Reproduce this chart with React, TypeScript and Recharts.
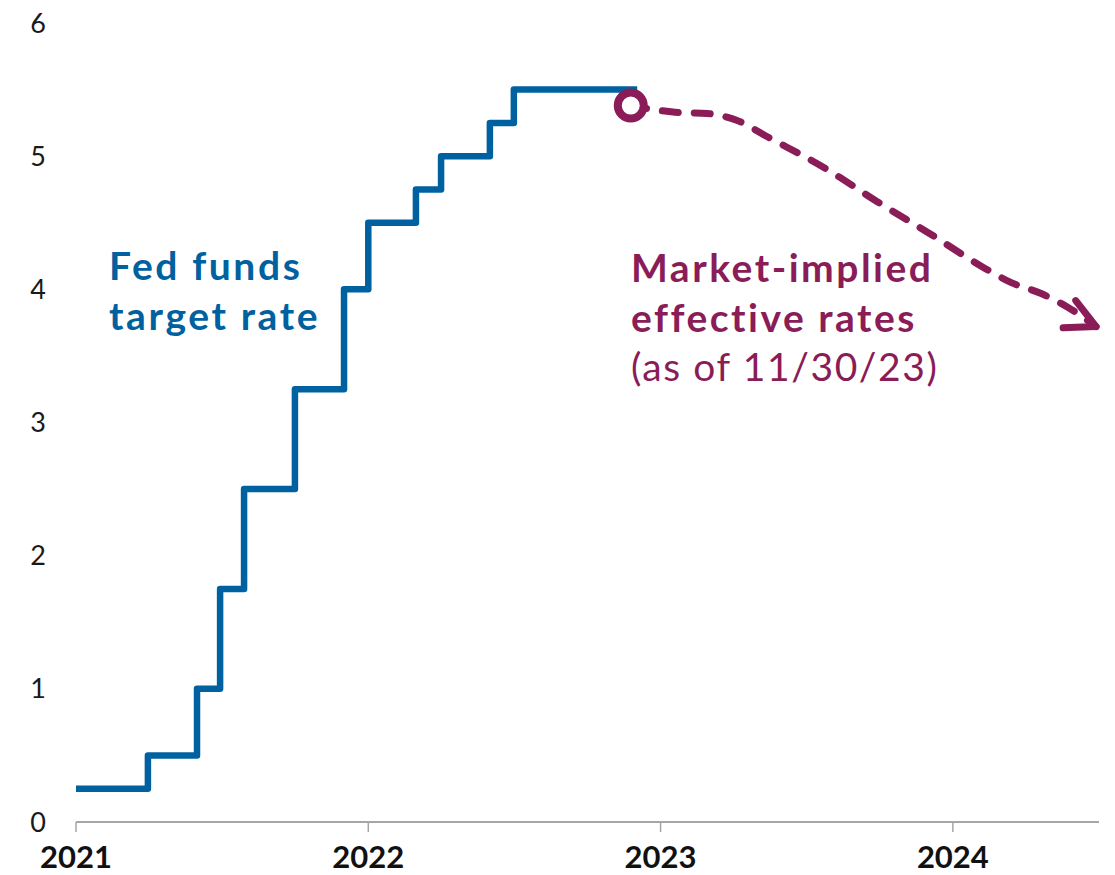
import { LineChart, Line, XAxis, YAxis } from "recharts";

const BLUE = "#0061A0";
const PURPLE = "#8A1C58";

// x axis
export const yearTicks = [2021, 2022, 2023, 2024];
export const rateTicks = [0, 1, 2, 3, 4, 5, 6];

// fed funds target rate (step)
export const fedYears = [
  2021.0, 2021.246, 2021.414, 2021.493, 2021.575, 2021.749, 2021.917, 2022.0,
  2022.163, 2022.249, 2022.416, 2022.498, 2022.92,
];
export const fedRates = [
  0.25, 0.5, 1.0, 1.75, 2.5, 3.25, 4.0, 4.5, 4.75, 5.0, 5.25, 5.5, 5.5,
];

// market-implied effective rates
export const impliedYears = [
  2022.898, 2023.05, 2023.16, 2023.26, 2023.37, 2023.57, 2023.74, 2023.92,
  2024.1, 2024.2, 2024.3, 2024.39, 2024.49,
];
export const impliedRates = [
  5.38, 5.33, 5.32, 5.27, 5.14, 4.9, 4.66, 4.42, 4.17, 4.05, 3.97, 3.87, 3.72,
];

const fedData = fedYears.map((year, i) => ({ year, rate: fedRates[i] }));
const impliedData = impliedYears.map((year, i) => ({
  year,
  rate: impliedRates[i],
}));

const renderImpliedDot = (props: any) => {
  const { cx, cy, index } = props;
  if (index === 0) {
    return (
      <circle
        key="start"
        cx={cx}
        cy={cy}
        r={13}
        fill="#fff"
        stroke={PURPLE}
        strokeWidth={8}
      />
    );
  }
  if (index === impliedData.length - 1) {
    const dir = (25 * Math.PI) / 180;
    const spread = (27 * Math.PI) / 180;
    const len = 33;
    const a1 = dir + Math.PI - spread;
    const a2 = dir + Math.PI + spread;
    const d = `M ${cx + len * Math.cos(a1)} ${cy + len * Math.sin(a1)} L ${cx} ${cy} L ${
      cx + len * Math.cos(a2)
    } ${cy + len * Math.sin(a2)}`;
    return (
      <path
        key="arrow"
        d={d}
        fill="none"
        stroke={PURPLE}
        strokeWidth={7}
        strokeLinecap="round"
        strokeLinejoin="round"
      />
    );
  }
  return <g key={`d${index}`} />;
};

export default function App() {
  return (
    <div
      style={{
        position: "relative",
        width: 1107,
        height: 875,
        marginTop: -8,
        fontFamily: "Lato, sans-serif",
      }}
    >
      <LineChart
        width={1107}
        height={875}
        margin={{ top: 23, right: 16, left: 0, bottom: 0 }}
      >
        <XAxis
          type="number"
          dataKey="year"
          domain={[2021, 2024.5]}
          ticks={yearTicks}
          allowDuplicatedCategory={false}
          height={53}
          tickSize={10}
          tickMargin={14}
          stroke="#a6a6a6"
          axisLine={{ stroke: "#a6a6a6", strokeWidth: 2 }}
          tickLine={{ stroke: "#a6a6a6", strokeWidth: 1.5 }}
          tick={{ fill: "#111", fontSize: 31, fontWeight: 700 }}
        />
        <YAxis
          type="number"
          dataKey="rate"
          domain={[0, 6]}
          ticks={rateTicks}
          width={68}
          axisLine={false}
          tickLine={false}
          tickSize={0}
          tickMargin={30}
          tick={{ fill: "#1a1a1a", fontSize: 27 }}
        />
        <Line
          data={fedData}
          dataKey="rate"
          type="stepAfter"
          stroke={BLUE}
          strokeWidth={6.5}
          strokeLinejoin="round"
          dot={false}
          activeDot={false}
          isAnimationActive={false}
        />
        <Line
          data={impliedData}
          dataKey="rate"
          type="monotone"
          stroke={PURPLE}
          strokeWidth={7}
          strokeDasharray="16 16"
          strokeLinecap="round"
          dot={renderImpliedDot}
          activeDot={false}
          isAnimationActive={false}
        />
      </LineChart>
      <svg
        width={1107}
        height={875}
        style={{ position: "absolute", left: 0, top: 0, pointerEvents: "none" }}
      >
        <text x={101} y={280} fill={BLUE} fontSize={39} fontWeight={700} letterSpacing={2.6}>
          Fed funds
        </text>
        <text x={101} y={330} fill={BLUE} fontSize={39} fontWeight={700} letterSpacing={2.6}>
          target rate
        </text>
        <text x={623} y={282} fill={PURPLE} fontSize={39} fontWeight={700} letterSpacing={2.5}>
          Market-implied
        </text>
        <text x={623} y={332} fill={PURPLE} fontSize={39} fontWeight={700} letterSpacing={2.5}>
          effective rates
        </text>
        <text x={623} y={381} fill={PURPLE} fontSize={39} fontWeight={400} letterSpacing={1.6}>
          (as of 11/30/23)
        </text>
      </svg>
    </div>
  );
}
